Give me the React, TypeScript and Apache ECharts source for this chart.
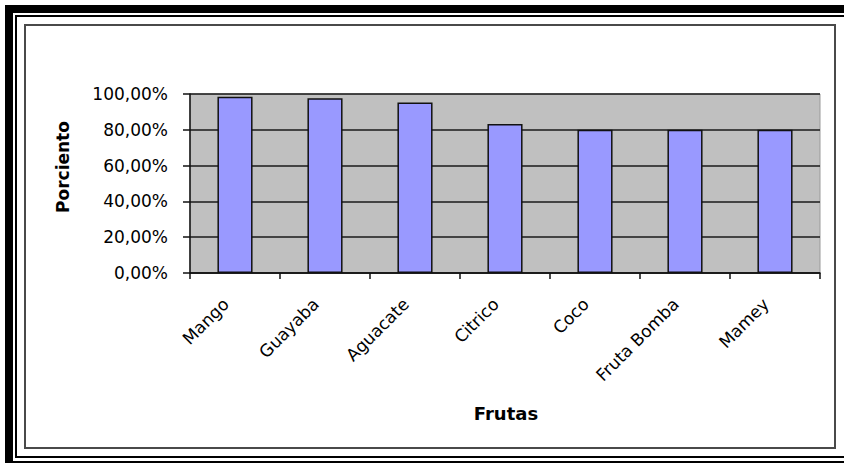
import React, { useEffect, useRef } from "react";
import * as echarts from "echarts";

// Fruit categories and the share (fraction of 1) for each
const frutas = ["Mango", "Guayaba", "Aguacate", "Citrico", "Coco", "Fruta Bomba", "Mamey"];
const porcentajes = [0.985, 0.976, 0.952, 0.833, 0.8, 0.8, 0.8];

// Y axis range and step (fractions)
const yMin = 0;
const yMax = 1;
const yStep = 0.2;

const axisTitleY = "Porciento";
const axisTitleX = "Frutas";

const FONT = "DejaVu Sans, Arial, sans-serif";

const formatPct = (v: number) => (v * 100).toFixed(2).replace(".", ",") + "%";

export default function App() {
  const ref = useRef<HTMLDivElement>(null);

  useEffect(() => {
    if (!ref.current) return;
    const chart = echarts.init(ref.current, undefined, { renderer: "svg" });

    chart.setOption({
      animation: false,
      backgroundColor: "#ffffff",
      textStyle: { fontFamily: FONT },
      grid: {
        left: 190,
        top: 94,
        right: 24,
        bottom: 190,
        containLabel: false,
        show: true,
        backgroundColor: "#C0C0C0",
        borderColor: "#9a9a9a",
        borderWidth: 1,
      },
      xAxis: {
        type: "category",
        data: frutas,
        boundaryGap: true,
        axisLine: { show: true, lineStyle: { color: "#111", width: 1.5 } },
        axisTick: { show: true, alignWithLabel: false, length: 6, lineStyle: { color: "#111", width: 1.5 } },
        axisLabel: {
          rotate: 45,
          interval: 0,
          margin: 19,
          padding: [0, 13, 0, 0],
          color: "#000",
          fontSize: 17,
          fontFamily: FONT,
        },
        splitLine: { show: false },
      },
      yAxis: {
        type: "value",
        min: yMin,
        max: yMax,
        interval: yStep,
        axisLine: { show: true, lineStyle: { color: "#111", width: 1.5 } },
        axisTick: { show: true, inside: false, length: 7, lineStyle: { color: "#111", width: 1.5 } },
        axisLabel: {
          margin: 22,
          color: "#000",
          fontSize: 17,
          fontFamily: FONT,
          formatter: (v: number) => formatPct(v),
        },
        splitLine: { show: true, lineStyle: { color: "#1a1a1a", width: 1.5 } },
      },
      series: [
        {
          type: "bar",
          data: porcentajes,
          barWidth: "39%",
          itemStyle: { color: "#9999FF", borderColor: "#111", borderWidth: 1.5 },
        },
      ],
      graphic: [
        // double frame around the picture
        { type: "rect", z: 100, silent: true, shape: { x: 5, y: 5, width: 850, height: 8 }, style: { fill: "#000" } },
        { type: "rect", z: 100, silent: true, shape: { x: 5, y: 5, width: 8, height: 470 }, style: { fill: "#000" } },
        { type: "rect", z: 100, silent: true, shape: { x: 5, y: 461, width: 850, height: 8 }, style: { fill: "#000" } },
        { type: "rect", z: 100, silent: true, shape: { x: 15, y: 15, width: 840, height: 2 }, style: { fill: "#000" } },
        { type: "rect", z: 100, silent: true, shape: { x: 15, y: 15, width: 2, height: 443 }, style: { fill: "#000" } },
        { type: "rect", z: 100, silent: true, shape: { x: 15, y: 456, width: 840, height: 2 }, style: { fill: "#000" } },
        // chart area border
        {
          type: "rect",
          z: 100,
          silent: true,
          shape: { x: 25, y: 25, width: 810, height: 423 },
          style: { fill: "none", stroke: "#4a4a4a", lineWidth: 2 },
        },
        // axis titles
        {
          type: "text",
          x: 63,
          y: 167,
          rotation: Math.PI / 2,
          style: {
            text: axisTitleY,
            x: 0,
            y: 0,
            align: "center",
            verticalAlign: "middle",
            fill: "#000",
            font: `bold 17px ${FONT}`,
          },
        },
        {
          type: "text",
          x: 506,
          y: 413,
          style: {
            text: axisTitleX,
            x: 0,
            y: 0,
            align: "center",
            verticalAlign: "middle",
            fill: "#000",
            font: `bold 18px ${FONT}`,
          },
        },
      ],
    });

    return () => chart.dispose();
  }, []);

  return (
    <div
      ref={ref}
      style={{ position: "absolute", left: 0, top: 0, width: 844, height: 463, background: "#fff" }}
    />
  );
}
